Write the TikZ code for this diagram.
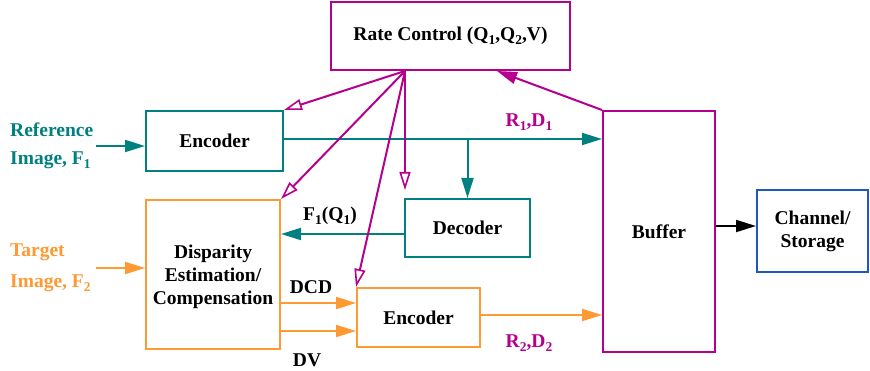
\documentclass[tikz,border=0pt]{standalone}
\usepackage{fontspec}
\setmainfont{Liberation Serif}
\usetikzlibrary{arrows.meta,calc}
\definecolor{tealc}{RGB}{0,128,128}
\definecolor{magc}{RGB}{180,0,140}
\definecolor{orgc}{RGB}{255,153,51}
\definecolor{bluec}{RGB}{30,90,190}
\newcommand{\sbs}[1]{\raisebox{-4pt}{\fontsize{13.5}{13.5}\selectfont #1}}
\begin{document}
\begin{tikzpicture}[x=1pt,y=-1pt,
  font=\fontsize{19.5}{23}\selectfont\bfseries,
  box/.style={draw,line width=2pt,rectangle,inner sep=0pt,align=center,fill=white},
  lnk/.style={line width=2pt},
  fa/.style={lnk,-{Triangle[length=20pt,width=12pt]}},
  oa/.style={lnk,-{Triangle[open,length=18pt,width=11pt,line width=1.6pt]}},
  lbl/.style={inner sep=0pt,anchor=center,align=center}]
\useasboundingbox (0,0) rectangle (870,371);
% boxes
\node[box,draw=magc,minimum width=239pt,minimum height=68pt] (rate) at (450.5,36) {Rate Control (Q\sbs{1},Q\sbs{2},V)};
\node[box,draw=tealc,minimum width=137pt,minimum height=60pt] (enc1) at (214.5,141) {Encoder};
\node[box,draw=tealc,minimum width=125pt,minimum height=58pt] (dec) at (467.5,228) {Decoder};
\node[box,draw=orgc,minimum width=134pt,minimum height=149pt] (disp) at (213,274.5) {};
\node[lbl] (displbl) at (213,277) {Disparity\\Estimation/\\Compensation};
\node[box,draw=orgc,minimum width=123pt,minimum height=59pt] (enc2) at (418.5,317.5) {Encoder};
\node[box,draw=magc,minimum width=112pt,minimum height=241pt] (buf) at (659,231.5) {Buffer};
\node[box,draw=bluec,minimum width=111pt,minimum height=82pt] (chan) at (812.5,231) {Channel/\\Storage};
% labels
\node[lbl,anchor=west,text=tealc] (reft) at (10,130) {Reference};
\node[lbl,anchor=west,text=tealc] (refi) at (10,160) {Image, F\sbs{1}};
\node[lbl,anchor=west,text=orgc] (tart) at (10,252) {Target};
\node[lbl,anchor=west,text=orgc] (tari) at (10,283) {Image, F\sbs{2}};
\node[lbl,text=magc] (r1d1) at (529,122) {R\sbs{1},D\sbs{1}};
\node[lbl,text=magc] (r2d2) at (529,343) {R\sbs{2},D\sbs{2}};
\node[lbl] (f1q1) at (330,216) {F\sbs{1}(Q\sbs{1})};
\node[lbl] (dcd) at (311,287) {DCD};
\node[lbl] (dv) at (307,360) {DV};
% coordinates
\coordinate (refin) at (96,146);
\coordinate (tarin) at (96,268);
\coordinate (fan) at ([xshift=-45.5pt]rate.south);
\coordinate (fb) at ([xshift=46.5pt]rate.south);
\coordinate (dwn) at (405,190);
\coordinate (dcdy) at (0,303);
\coordinate (dvy) at (0,331);
\coordinate (chy) at (0,226);
\coordinate (fqy) at (0,234);
\coordinate (e1y) at (0,139);
% teal connectors
\draw[fa,tealc] (refin) -- (refin -| enc1.west);
\draw[fa,tealc] (enc1.east |- e1y) -- (buf.west |- e1y);
\draw[fa,tealc] (dec.north |- e1y) -- (dec.north);
\draw[fa,tealc] (dec.west |- fqy) -- (disp.east |- fqy);
% orange connectors
\draw[fa,orgc] (tarin) -- (tarin -| disp.west);
\draw[fa,orgc] (disp.east |- dcdy) -- (enc2.west |- dcdy);
\draw[fa,orgc] (disp.east |- dvy) -- (enc2.west |- dvy);
\draw[fa,orgc] (enc2.east |- 0,315) -- (buf.west |- 0,315);
% black
\draw[fa,black] (buf.east |- chy) -- (chan.west |- chy);
% magenta
\draw[fa,magc] (buf.north west) -- (fb);
\draw[oa,magc] (fan) -- (enc1.north east);
\draw[oa,magc] (fan) -- (disp.north east);
\draw[oa,magc] (fan) -- (dwn);
\draw[oa,magc] (fan) -- (enc2.north west);
\end{tikzpicture}
\end{document}
